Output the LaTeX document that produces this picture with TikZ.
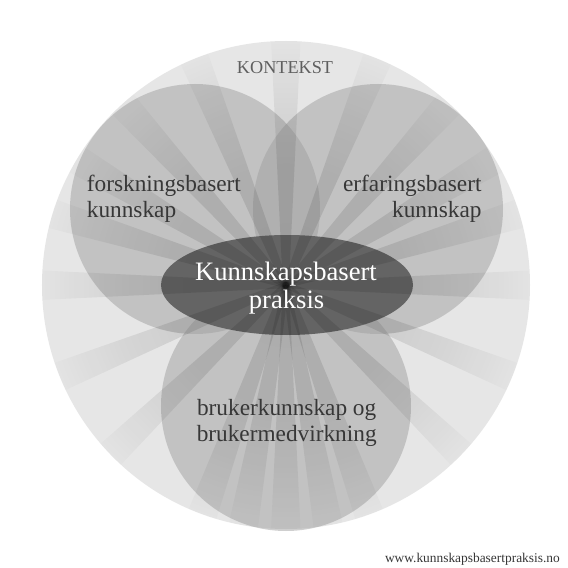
\documentclass[tikz,border=0pt]{standalone}
\usepackage{fontspec}
\setmainfont{Liberation Serif}
\usetikzlibrary{fadings,shapes.geometric}
\pgfdeclareradialshading{rayshade}{\pgfpointorigin}{color(0bp)=(pgftransparent!0); color(12bp)=(pgftransparent!10); color(18bp)=(pgftransparent!40); color(22bp)=(pgftransparent!68); color(25bp)=(pgftransparent!90); color(50bp)=(pgftransparent!100)}
\pgfdeclarefading{rayfade}{\pgfuseshading{rayshade}}
\definecolor{ctxfill}{RGB}{230,230,230}
\definecolor{circfill}{RGB}{160,160,160}
\definecolor{corefill}{RGB}{100,100,100}
\definecolor{labtxt}{RGB}{55,55,55}
\definecolor{ktxt}{RGB}{95,95,95}
\begin{document}
\begin{tikzpicture}[x=1pt,y=1pt,
  knowl/.style={circle, fill=circfill, fill opacity=0.5, minimum size=250pt, inner sep=0pt},
  raypath/.style={fill=black, fill opacity=0.11, path fading=rayfade, fit fading=false, fading transform={scale=9.75}},
  lab/.style={font=\fontsize{23.3}{26}\selectfont, text=labtxt, inner sep=0pt},
  corelab/.style={font=\fontsize{26.6}{28}\selectfont, text=white, inner sep=0pt, anchor=base}]
\useasboundingbox (-286,-283) rectangle (282,285);
\fill[white] (-286,-283) rectangle (282,285);
\node[circle, fill=ctxfill, minimum size=488pt, inner sep=0pt] (ctx) at (0,0) {};
\node[knowl] (forsk) at (-91,76) {};
\node[knowl] (erf) at (92,76) {};
\node[knowl] (bruk) at (0,-121) {};
\node[ellipse, fill=corefill, minimum width=252pt, minimum height=100pt, inner sep=0pt] (kbp) at (1,0) {};
\begin{scope}
  \clip (0,0) circle (244);
  \foreach \a in {0,17,31,48,68,90,112,132,149,163,180,202,224,250,260,270,280,290,316,338}
    \fill[raypath, rotate=\a] (0,-3) -- (250,-15) -- (250,15) -- (0,3) -- cycle;
\end{scope}
\node[lab, anchor=base west] (f1) at (-199.3,93.3) {forskningsbasert};
\node[lab, anchor=base west] (f2) at (-199.3,67) {kunnskap};
\node[lab, anchor=base east] (e1) at (195.7,93.3) {erfaringsbasert};
\node[lab, anchor=base east] (e2) at (195.7,67) {kunnskap};
\node[lab, anchor=base] (b1) at (0.7,-130) {brukerkunnskap og};
\node[lab, anchor=base] (b2) at (0.7,-156.7) {brukermedvirkning};
\node[corelab] (k1) at (0,5) {Kunnskapsbasert};
\node[corelab] (k2) at (0.6,-23.3) {praksis};
\node[font=\fontsize{18.2}{20}\selectfont, text=ktxt, inner sep=0pt, anchor=base] (kontekst) at (-1,211.7) {KONTEKST};
\node[font=\fontsize{13.4}{15}\selectfont, text=labtxt, inner sep=0pt, anchor=base east] (url) at (274,-277) {www.kunnskapsbasertpraksis.no};
\end{tikzpicture}
\end{document}
